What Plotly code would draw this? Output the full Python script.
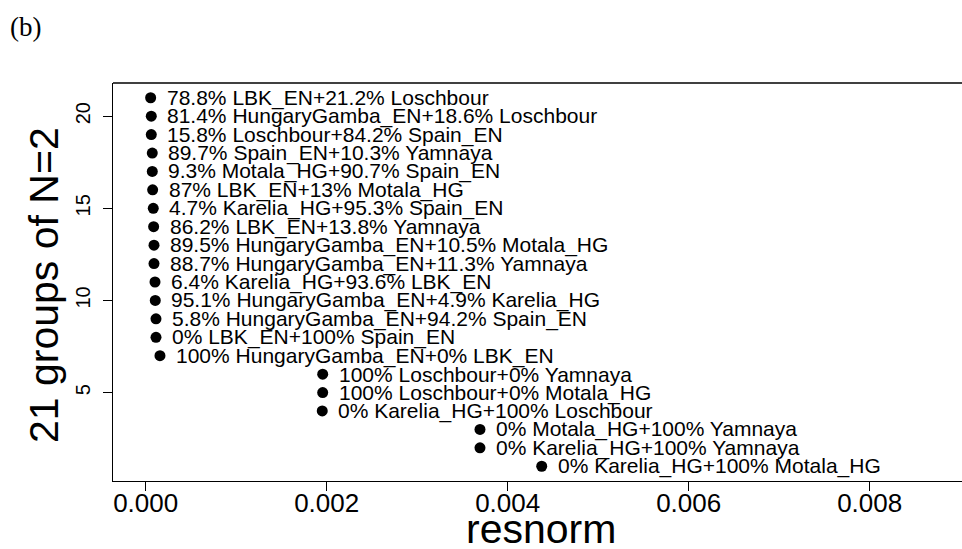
import plotly.graph_objects as go

# Data (row index 1..21 from bottom to top)
rows = list(range(1, 22))
resnorm = [
    0.004376, 0.003694, 0.003694, 0.001951, 0.001956, 0.001956, 0.000158,
    0.000114, 0.000114, 0.000106, 0.000103, 0.000092, 0.000092, 0.000088,
    0.000084, 0.000077, 0.000073, 0.000073, 0.000062, 0.000062, 0.000055,
]
labels = [
    "0% Karelia_HG+100% Motala_HG",
    "0% Karelia_HG+100% Yamnaya",
    "0% Motala_HG+100% Yamnaya",
    "0% Karelia_HG+100% Loschbour",
    "100% Loschbour+0% Motala_HG",
    "100% Loschbour+0% Yamnaya",
    "100% HungaryGamba_EN+0% LBK_EN",
    "0% LBK_EN+100% Spain_EN",
    "5.8% HungaryGamba_EN+94.2% Spain_EN",
    "95.1% HungaryGamba_EN+4.9% Karelia_HG",
    "6.4% Karelia_HG+93.6% LBK_EN",
    "88.7% HungaryGamba_EN+11.3% Yamnaya",
    "89.5% HungaryGamba_EN+10.5% Motala_HG",
    "86.2% LBK_EN+13.8% Yamnaya",
    "4.7% Karelia_HG+95.3% Spain_EN",
    "87% LBK_EN+13% Motala_HG",
    "9.3% Motala_HG+90.7% Spain_EN",
    "89.7% Spain_EN+10.3% Yamnaya",
    "15.8% Loschbour+84.2% Spain_EN",
    "81.4% HungaryGamba_EN+18.6% Loschbour",
    "78.8% LBK_EN+21.2% Loschbour",
]
x_ticks = [0.0, 0.002, 0.004, 0.006, 0.008]
y_ticks = [5, 10, 15, 20]

SANS = "Liberation Sans, Arial, sans-serif"

fig = go.Figure()
fig.add_trace(go.Scatter(
    x=resnorm, y=rows, mode="markers",
    marker=dict(color="black", size=11, line=dict(width=0)),
    hoverinfo="skip", showlegend=False,
))

for xv, yv, t in zip(resnorm, rows, labels):
    fig.add_annotation(
        x=xv, y=yv, xref="x", yref="y", text=t, showarrow=False,
        xanchor="left", yanchor="middle", xshift=14,
        font=dict(family=SANS, size=21, color="black"),
    )

# y axis title
fig.add_annotation(
    x=0, y=0.5, xref="paper", yref="paper", text="21 groups of N=2",
    showarrow=False, textangle=-90, xanchor="center", yanchor="middle",
    xshift=-69, yshift=-3, font=dict(family=SANS, size=41, color="black"),
)
# x axis title
fig.add_annotation(
    x=0.5, y=0, xref="paper", yref="paper", text="resnorm",
    showarrow=False, xanchor="center", yanchor="middle",
    yshift=-48, xshift=3, font=dict(family=SANS, size=41, color="black"),
)
# panel label
fig.add_annotation(
    x=0, y=1, xref="paper", yref="paper", text="(b)",
    showarrow=False, xanchor="left", yanchor="middle",
    xshift=-105, yshift=56,
    font=dict(family="Liberation Serif, Times New Roman, serif", size=27, color="black"),
)
# top border of the box
fig.add_shape(type="line", xref="paper", yref="paper", x0=0, x1=1, y0=1, y1=1,
              line=dict(color="black", width=1.3))

fig.update_layout(
    width=962, height=549,
    margin=dict(l=113, r=0, t=83, b=68),
    paper_bgcolor="white", plot_bgcolor="white",
    xaxis=dict(
        range=[-0.000361, 0.00902], tickvals=x_ticks, tickformat=".3f",
        ticks="outside", ticklen=9, tickwidth=1.3, tickcolor="black",
        showline=True, linecolor="black", linewidth=1.3,
        showgrid=False, zeroline=False, automargin=False,
        ticklabelstandoff=-10,
        tickfont=dict(family=SANS, size=26, color="black"),
    ),
    yaxis=dict(
        range=[0.2, 21.8], tickvals=y_ticks, tickangle=-90,
        ticks="outside", ticklen=9, tickwidth=1.3, tickcolor="black",
        showline=True, linecolor="black", linewidth=1.3,
        showgrid=False, zeroline=False, automargin=False,
        ticklabelstandoff=5,
        tickfont=dict(family=SANS, size=20, color="black"),
    ),
)

fig.write_html(
    "out.html",
    config={"displayModeBar": False},
    post_script="document.body.style.margin='0';document.body.style.padding='0';",
)
